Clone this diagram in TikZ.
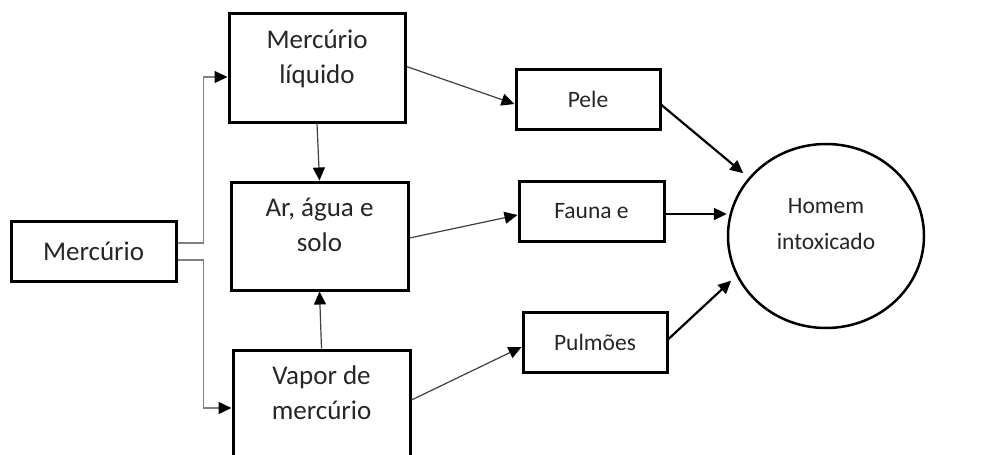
\documentclass[tikz,border=0pt]{standalone}
\usepackage{fontspec}
\setmainfont{Carlito}
\usetikzlibrary{arrows.meta,shapes.geometric}
\begin{document}
\begin{tikzpicture}[x=1pt,y=-1pt,
  box/.style={draw=black, line width=3pt, rectangle, inner sep=0pt},
  bigtxt/.style={font=\fontsize{27}{35}\selectfont, text=black!85},
  smalltxt/.style={font=\fontsize{23.5}{29}\selectfont, text=black!85},
  tipped/.style={-{Triangle[length=13pt,width=12pt,color=black]}},
  thinarrow/.style={tipped, draw=black!75, line width=1.2pt},
  grayarrow/.style={tipped, draw=black!50, line width=1.5pt},
  boldarrow/.style={tipped, draw=black, line width=2.2pt},
]
\useasboundingbox[fill=white] (0,0) rectangle (997,455);

\node[box, minimum width=165pt, minimum height=60pt, bigtxt] (merc) at (93.5,251) {Mercúrio};

\node[box, minimum width=176pt, minimum height=109pt,
  label={[bigtxt, align=center, anchor=base, yshift=-72pt]north:Mercúrio\\líquido}] (liq) at (317,67.5) {};
\node[box, minimum width=177pt, minimum height=108pt,
  label={[bigtxt, align=center, anchor=base, yshift=-71pt]north:Ar, água e\\solo}] (ar) at (319.5,236) {};
\node[box, minimum width=177pt, minimum height=120pt,
  label={[bigtxt, align=center, anchor=base, yshift=-71pt]north:Vapor de\\mercúrio}] (vap) at (321.5,410) {};

\node[box, minimum width=144pt, minimum height=60pt, smalltxt] (pele) at (588,99) {Pele};
\node[box, minimum width=145pt, minimum height=60pt, smalltxt] (fauna) at (591.5,211) {Fauna e};
\node[box, minimum width=144pt, minimum height=60pt, smalltxt] (pulm) at (595,342) {Pulmões};

\node[ellipse, draw=black, line width=2.5pt, minimum width=196pt, minimum height=184pt, inner sep=0pt,
  label={[font=\fontsize{23.5}{36}\selectfont, text=black!85, align=center, yshift=12pt]center:Homem\\intoxicado}] (homem) at (826,236) {};

\draw[grayarrow] ([yshift=8pt]merc.east) -- ++(26,0) |- ([yshift=-9.5pt]liq.west);
\draw[grayarrow] ([yshift=-9pt]merc.east) -- ++(26,0) |- ([yshift=2pt]vap.west);
\draw[thinarrow] (liq.south) -- (ar.north);
\draw[thinarrow] (vap.north) -- (ar.south);
\draw[thinarrow] ([yshift=1pt]liq.east) -- ([yshift=-5pt]pele.west);
\draw[thinarrow] ([yshift=-2pt]ar.east) -- ([yshift=-4pt]fauna.west);
\draw[thinarrow] ([yshift=10pt]vap.east) -- ([yshift=-5pt]pulm.west);

\path ([yshift=-3pt]fauna.east) coordinate (fe);
\draw[boldarrow, shorten >=7pt] ([yshift=-6pt]pele.east) -- (homem.143);
\draw[boldarrow] (fe) -- (fe -| homem.west);
\draw[boldarrow, shorten >=7pt] ([yshift=3pt]pulm.east) -- (homem.-156);
\end{tikzpicture}
\end{document}
